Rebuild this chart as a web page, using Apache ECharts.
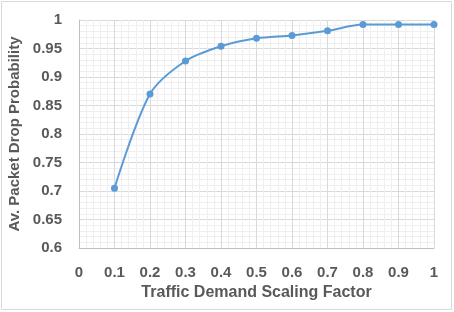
<!DOCTYPE html>
<html><head><meta charset="utf-8">
<script src="https://cdn.jsdelivr.net/npm/echarts@6/dist/echarts.min.js"></script>
<style>html,body{margin:0;padding:0;background:#fff}#c{width:454px;height:312px}</style>
</head><body><div id="c"></div>
<script>
var xValues = [0.1, 0.2, 0.3, 0.4, 0.5, 0.6, 0.7, 0.8, 0.9, 1.0];
var dropProb = [0.705, 0.870, 0.928, 0.954, 0.968, 0.973, 0.981, 0.992, 0.992, 0.992];
var xTitle = 'Traffic Demand Scaling Factor';
var yTitle = 'Av. Packet Drop Probability';

var chart = echarts.init(document.getElementById('c'));
var font = 'Liberation Sans';
var txt = '#595959';
chart.setOption({
  animation: false,
  graphic: [{type:'rect', shape:{x:1.5,y:1.5,width:450,height:308}, style:{fill:'none', stroke:'#d9d9d9', lineWidth:1}}],
  grid: {left: 79, right: 20, top: 20, bottom: 64, containLabel: false, outerBoundsMode: 'none'},
  xAxis: {
    type: 'value', min: 0, max: 1, interval: 0.1,
    name: xTitle, nameLocation: 'middle', nameGap: 37,
    nameTextStyle: {fontFamily: font, fontWeight: 'bold', fontSize: 16, color: txt},
    axisLine: {show: true, lineStyle: {color: '#bfbfbf'}},
    axisTick: {show: false},
    axisLabel: {fontFamily: font, fontWeight: 'bold', fontSize: 15, color: txt, margin: 17,
      formatter: function(v){ return String(Math.round(v*10)/10); }},
    splitLine: {show: true, lineStyle: {color: '#d9d9d9'}},
    minorTick: {show: false, splitNumber: 5},
    minorSplitLine: {show: true, lineStyle: {color: '#efefef'}}
  },
  yAxis: {
    type: 'value', min: 0.6, max: 1, interval: 0.05,
    name: yTitle, nameLocation: 'middle', nameGap: 54,
    nameTextStyle: {fontFamily: font, fontWeight: 'bold', fontSize: 15, color: txt},
    axisLine: {show: true, lineStyle: {color: '#bfbfbf'}},
    axisTick: {show: false},
    axisLabel: {fontFamily: font, fontWeight: 'bold', fontSize: 15, color: txt, margin: 17,
      formatter: function(v){ return String(Math.round(v*100)/100); }},
    splitLine: {show: true, lineStyle: {color: '#d9d9d9'}},
    minorTick: {show: false, splitNumber: 5},
    minorSplitLine: {show: true, lineStyle: {color: '#efefef'}}
  },
  series: [{
    type: 'line', smooth: 0.3,
    data: xValues.map(function(x,i){ return [x, dropProb[i]]; }),
    symbol: 'circle', symbolSize: 7,
    itemStyle: {color: '#5b9bd5'},
    lineStyle: {color: '#5b9bd5', width: 2}
  }]
});
</script></body></html>
